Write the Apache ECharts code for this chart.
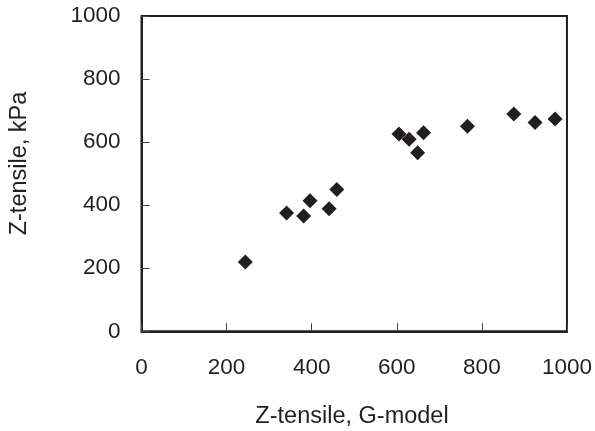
<!DOCTYPE html>
<html>
<head>
<meta charset="utf-8">
<script src="https://cdn.jsdelivr.net/npm/echarts@6/dist/echarts.min.js"></script>
<style>
  html, body { margin: 0; padding: 0; background: #fff; }
  #chart { width: 595px; height: 431px; }
</style>
</head>
<body>
<div id="chart"></div>
<script>
// Z-tensile strength: G-model prediction vs. measured value (kPa)
const gModel   = [244, 341, 381, 396, 441, 459, 605, 629, 649, 663, 766, 875, 925, 972];
const measured = [220, 375, 366, 414, 389, 450, 626, 609, 566, 630, 650, 689, 662, 673];
const xTicks = [0, 200, 400, 600, 800, 1000];
const yTicks = [0, 200, 400, 600, 800, 1000];
const xTitle = 'Z-tensile, G-model';
const yTitle = 'Z-tensile, kPa';

const points = gModel.map((g, i) => [g, measured[i]]);
const ink = '#231f20';
const font = 'Liberation Sans, Arial, sans-serif';
const plain = v => String(v);

const chart = echarts.init(document.getElementById('chart'), null, { renderer: 'canvas' });
chart.setOption({
  animation: false,
  backgroundColor: '#fff',
  grid: {
    left: 141.5, right: 27.5, top: 16, bottom: 99.7,
    show: true, borderColor: ink, borderWidth: 2, backgroundColor: 'transparent'
  },
  xAxis: {
    type: 'value',
    min: xTicks[0], max: xTicks[xTicks.length - 1], interval: xTicks[1] - xTicks[0],
    axisLine: { show: true, lineStyle: { color: ink, width: 2 } },
    axisTick: { show: true, inside: true, length: 8, lineStyle: { color: '#444', width: 1 } },
    axisLabel: { margin: 25, color: ink, fontSize: 22.5, fontFamily: font, formatter: plain },
    splitLine: { show: false }
  },
  yAxis: {
    type: 'value',
    min: yTicks[0], max: yTicks[yTicks.length - 1], interval: yTicks[1] - yTicks[0],
    axisLine: { show: true, lineStyle: { color: ink, width: 2 } },
    axisTick: { show: true, inside: true, length: 8, lineStyle: { color: '#444', width: 1 } },
    axisLabel: { margin: 21, color: ink, fontSize: 22.5, fontFamily: font, formatter: plain },
    splitLine: { show: false }
  },
  graphic: [
    {
      type: 'text', x: 352, y: 417,
      style: { text: xTitle, fill: ink, font: '23.5px ' + font, align: 'center', verticalAlign: 'middle' }
    },
    {
      type: 'text', x: 20, y: 163.5, rotation: Math.PI / 2,
      style: { text: yTitle, fill: ink, font: '23.5px ' + font, align: 'center', verticalAlign: 'middle' }
    }
  ],
  series: [{
    type: 'scatter',
    data: points,
    symbol: 'diamond',
    symbolSize: 15,
    itemStyle: { color: ink, opacity: 1 }
  }]
});
</script>
</body>
</html>
